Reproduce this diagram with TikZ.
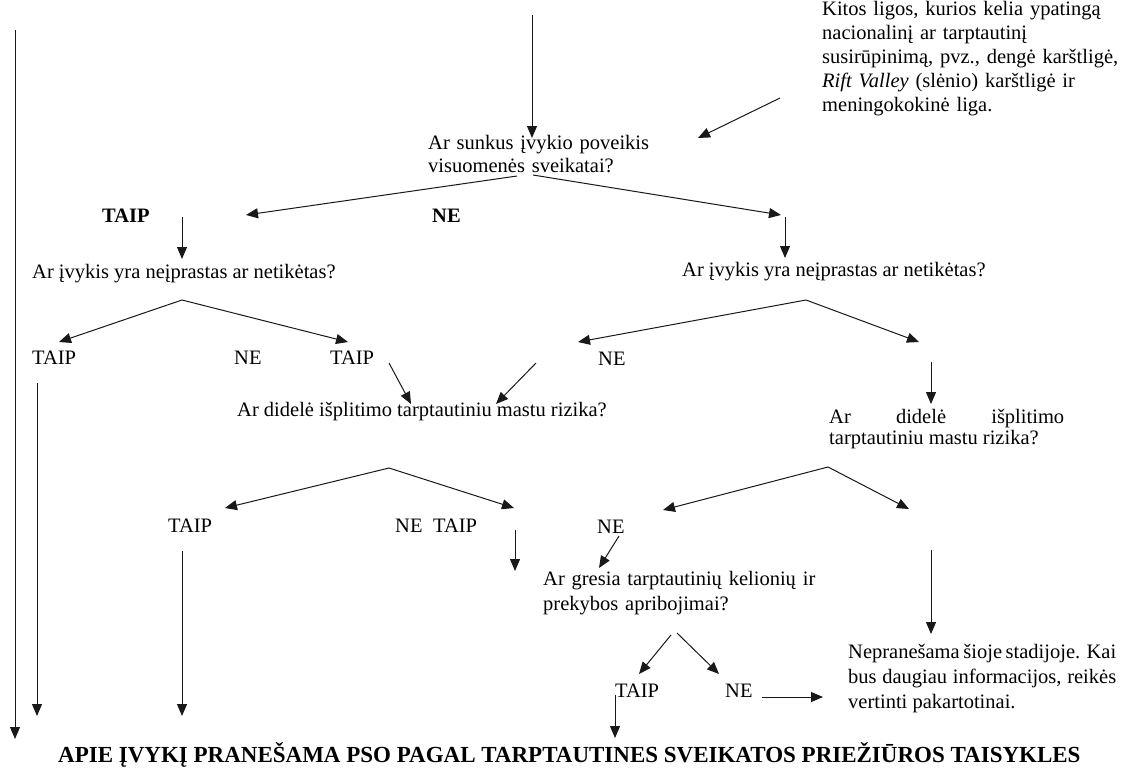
\documentclass[tikz,border=0pt]{standalone}
\usepackage{fontspec}
\setmainfont{Liberation Serif}
\usetikzlibrary{arrows.meta}
\hyphenpenalty=10000
\exhyphenpenalty=10000
\begin{document}
\begin{tikzpicture}[x=1pt,y=-1pt,
  arr/.style={draw=black!90, line width=1pt, -{Triangle[length=12pt,width=10pt]}},
  txt/.style={anchor=base west, inner sep=0pt, font=\fontsize{20.5}{24}\selectfont},
  para/.style={txt, text width=#1, align=left},
  jpara/.style={txt, text width=#1, align=justify},
  bold/.style={anchor=base west, inner sep=0pt, font=\fontsize{20.5}{24}\selectfont\bfseries}]
\useasboundingbox (0,0) rectangle (1123,769);
\fill[white] (0,0) rectangle (1123,769);

% texts
\node[para=300pt] (other) at (822,15) {Kitos ligos, kurios kelia ypatingą\\nacionalinį ar tarptautinį\\susirūpinimą, pvz., dengė karštligė,\\\textit{Rift Valley} (slėnio) karštligė ir\\meningokokinė liga.};
\node[para=260pt, font=\fontsize{20.5}{23}\selectfont] (q1) at (428,149) {Ar sunkus įvykio poveikis\\visuomenės sveikatai?};
\node[bold] (taip1) at (102,222) {TAIP};
\node[bold] (ne1) at (432,222) {NE};
\node[txt] (q2l) at (32,278) {Ar įvykis yra neįprastas ar netikėtas?};
\node[txt] (q2r) at (682,276) {Ar įvykis yra neįprastas ar netikėtas?};
\node[txt] (taip2) at (32,364) {TAIP};
\node[txt] (ne2) at (234,364) {NE};
\node[txt] (taip3) at (330,364) {TAIP};
\node[txt] (ne3) at (598,365) {NE};
\node[txt] (q3l) at (237,416) {Ar didelė išplitimo tarptautiniu mastu rizika?};
\node[jpara=235pt, font=\fontsize{20.5}{21.5}\selectfont] (q3r) at (829,423) {Ar didelė išplitimo\linebreak tarptautiniu mastu rizika?};
\node[txt] (taip4) at (168,532) {TAIP};
\node[txt] (ne4) at (395,532) {NE};
\node[txt] (taip5) at (433,532) {TAIP};
\node[txt] (ne5) at (597,533) {NE};
\node[para=320pt, font=\fontsize{20.5}{25.5}\selectfont] (q4) at (543,585) {Ar gresia tarptautinių kelionių ir\\prekybos apribojimai?};
\node[txt] (taip6) at (615,697) {TAIP};
\node[txt] (ne6) at (725,697) {NE};
\node[jpara=268pt, font=\fontsize{20.5}{25.3}\selectfont] (nr) at (848,658) {Nepranešama šioje stadijoje. Kai\linebreak bus daugiau informacijos, reikės\linebreak vertinti pakartotinai.};
\node[anchor=base west, inner sep=0pt, font=\fontsize{23}{26}\selectfont\bfseries] (report) at (58,762) {APIE ĮVYKĮ PRANEŠAMA PSO PAGAL TARPTAUTINES SVEIKATOS PRIEŽIŪROS TAISYKLES};

% coordinates
\coordinate (a0s) at (532,15);  \coordinate (a0e) at (532,138);
\coordinate (a1s) at (780,98);  \coordinate (a1e) at (698,138);
\coordinate (s1l) at (517,176); \coordinate (t1l) at (246,215);
\coordinate (s1r) at (533,175); \coordinate (t1r) at (781,215);
\coordinate (d1s) at (182,217); \coordinate (d1e) at (182,259);
\coordinate (d2s) at (785,217); \coordinate (d2e) at (785,258);
\coordinate (s2) at (182,300);  \coordinate (t2l) at (59,342);  \coordinate (t2r) at (348,342);
\coordinate (s3) at (806,300);  \coordinate (t3l) at (578,342); \coordinate (t3r) at (919,342);
\coordinate (e1s) at (389,363); \coordinate (e1e) at (411,404);
\coordinate (e2s) at (536,363); \coordinate (e2e) at (496,404);
\coordinate (d3s) at (931,362); \coordinate (d3e) at (931,404);
\coordinate (s4) at (389,468);  \coordinate (t4l) at (225,508); \coordinate (t4r) at (514,508);
\coordinate (s5) at (828,467);  \coordinate (t5l) at (663,510); \coordinate (t5r) at (909,509);
\coordinate (d4s) at (515,530); \coordinate (d4e) at (515,571);
\coordinate (e3s) at (619,536); \coordinate (e3e) at (599,568);
\coordinate (v1s) at (15,30);   \coordinate (v1e) at (15,739);
\coordinate (v2s) at (37,383);  \coordinate (v2e) at (37,716);
\coordinate (v3s) at (182,551); \coordinate (v3e) at (182,716);
\coordinate (v4s) at (931,550); \coordinate (v4e) at (931,634);
\coordinate (s6l) at (671,635); \coordinate (t6l) at (639,674);
\coordinate (s6r) at (677,633); \coordinate (t6r) at (719,674);
\coordinate (h1s) at (762,697); \coordinate (h1e) at (823,697);
\coordinate (v5s) at (615,695); \coordinate (v5e) at (615,738);

% connectors
\draw[arr] (a0s) -- (a0e);
\draw[arr] (a1s) -- (a1e);
\draw[arr] (s1l) -- (t1l);
\draw[arr] (s1r) -- (t1r);
\draw[arr] (d1s) -- (d1e);
\draw[arr] (d2s) -- (d2e);
\draw[arr] (s2) -- (t2l);
\draw[arr] (s2) -- (t2r);
\draw[arr] (s3) -- (t3l);
\draw[arr] (s3) -- (t3r);
\draw[arr] (e1s) -- (e1e);
\draw[arr] (e2s) -- (e2e);
\draw[arr] (d3s) -- (d3e);
\draw[arr] (s4) -- (t4l);
\draw[arr] (s4) -- (t4r);
\draw[arr] (s5) -- (t5l);
\draw[arr] (s5) -- (t5r);
\draw[arr] (d4s) -- (d4e);
\draw[arr] (e3s) -- (e3e);
\draw[arr] (v1s) -- (v1e);
\draw[arr] (v2s) -- (v2e);
\draw[arr] (v3s) -- (v3e);
\draw[arr] (v4s) -- (v4e);
\draw[arr] (s6l) -- (t6l);
\draw[arr] (s6r) -- (t6r);
\draw[arr] (h1s) -- (h1e);
\draw[arr] (v5s) -- (v5e);
\end{tikzpicture}
\end{document}
